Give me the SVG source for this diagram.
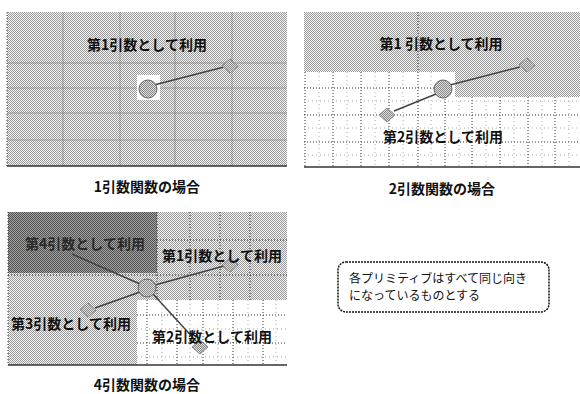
<svg xmlns="http://www.w3.org/2000/svg" width="580" height="394" viewBox="0 0 580 394">
<defs>
<pattern id="lt" width="2" height="2" patternUnits="userSpaceOnUse"><rect width="2" height="2" fill="#f2f2f2"/><rect width="1" height="1" fill="#9c9c9c"/><rect x="1" y="1" width="1" height="1" fill="#9c9c9c"/></pattern>
<pattern id="dk" width="2" height="2" patternUnits="userSpaceOnUse"><rect width="2" height="2" fill="#a0a0a0"/><rect width="1" height="1" fill="#555"/><rect x="1" y="1" width="1" height="1" fill="#555"/></pattern>
<pattern id="md" width="2" height="2" patternUnits="userSpaceOnUse"><rect width="2" height="2" fill="#dcdcdc"/><rect width="1" height="1" fill="#8a8a8a"/><rect x="1" y="1" width="1" height="1" fill="#8a8a8a"/></pattern>
</defs>
<style>
.lbl{font-family:"Noto Sans CJK JP","Noto Sans CJK SC",sans-serif;font-weight:bold;font-size:14px;fill:#111;text-anchor:middle}
.cap{font-family:"Noto Sans CJK JP","Noto Sans CJK SC",sans-serif;font-weight:bold;font-size:14px;fill:#111;text-anchor:middle}
.note{font-family:"Noto Sans CJK JP","Noto Sans CJK SC",sans-serif;font-size:12px;fill:#111}
.g1{stroke:#8a8a8a;stroke-width:1;fill:none;opacity:.7}
.dot{stroke:#333;stroke-width:1;stroke-dasharray:1 2;fill:none}
.dotl{stroke:#aaa;stroke-width:1;stroke-dasharray:1 3;fill:none}
.edge{stroke:#444;stroke-width:1.5;fill:none}
.prim{fill:url(#md);stroke:#666;stroke-width:1}
.arg{fill:url(#md);stroke:#888;stroke-width:1}
.base{stroke:#333;stroke-width:1.5}
</style>

<!-- Panel 1 -->
<g id="panel1">
<rect x="7" y="12" width="280" height="154" fill="url(#lt)"/>
<path class="g1" d="M7 63H287M7 88H287M7 113H287M7 140H287M63 12V166M120 12V166M175 12V166M232 12V166"/>
<path class="dot" d="M7 12V166"/>
<line class="base" x1="7" y1="166" x2="287" y2="166"/>
<rect x="137" y="75" width="23" height="25" fill="#fff"/>
</g>

<!-- Panel 2 -->
<g id="panel2">
<rect x="304" y="12" width="276" height="155" fill="#fff"/>
<rect x="304" y="12" width="276" height="60" fill="url(#lt)"/>
<rect x="455" y="72" width="125" height="25" fill="url(#lt)"/>
<path class="dotl" d="M319 72V167M347 72V167M375 72V167M403 72V167M431 72V167M459 97V167M486 97V167M514 97V167M542 97V167M569 97V167M304 101H580M304 128H580M304 155H580"/>
<path class="dot" d="M305 72V167M333 72V167M361 72V167M389 72V167M445 90V167M472 97V167M500 97V167M528 97V167M555 97V167M304 88H440M304 115H580M304 142H580"/>
<path class="dot" d="M418 12V167" stroke-width="1.5"/>
<line class="base" x1="304" y1="167" x2="580" y2="167"/>
</g>

<!-- Panel 3 -->
<g id="panel3">
<rect x="8" y="212" width="279" height="153" fill="url(#lt)"/>
<rect x="8" y="212" width="149" height="61" fill="url(#dk)"/>
<rect x="137" y="300" width="150" height="65" fill="#fff"/>
<path class="dot" d="M8 275H157M157 212V300M190 212V300M220 212V300M250 212V300M157 240H287M157 275H287"/>
<path class="dotl" d="M162 300V365M190 300V365M218 300V365M248 300V365M276 300V365M137 329H287M137 357H287"/>
<path class="dot" d="M147 300V365M177 300V365M203 300V365M233 300V365M263 300V365M137 315H287M137 343H287"/>
<path class="dot" d="M8 212V365"/>
<line class="base" x1="8" y1="365" x2="287" y2="365"/>
</g>

<!-- Connectors -->
<g id="connectors">
<line class="edge" x1="154" y1="85" x2="224" y2="67"/>
<line class="edge" x1="450" y1="85" x2="520" y2="67"/>
<line class="edge" x1="436" y1="94" x2="394" y2="111"/>
<line class="edge" x1="140" y1="284" x2="72" y2="254"/>
<line class="edge" x1="155" y1="285" x2="224" y2="266"/>
<line class="edge" x1="140" y1="292" x2="95" y2="308"/>
<line class="edge" x1="153" y1="294" x2="196" y2="341"/>
</g>

<!-- Nodes -->
<g id="p1-primitive"><circle class="prim" cx="148" cy="89" r="9"/></g>
<g id="p1-arg1"><path class="arg" d="M230 59L238 66L230 73L222 66Z"/></g>
<g id="p1-label1"><text class="lbl" x="147" y="50">第1引数として利用</text></g>

<g id="p2-primitive"><circle class="prim" cx="443" cy="89" r="9"/></g>
<g id="p2-arg1"><path class="arg" d="M527 58L535 65L527 72L519 65Z"/></g>
<g id="p2-arg2"><path class="arg" d="M387 108L395 115L387 122L379 115Z"/></g>
<g id="p2-label1"><text class="lbl" x="441" y="49">第1 引数として利用</text></g>
<g id="p2-label2"><text class="lbl" x="443" y="142">第2引数として利用</text></g>

<g id="p3-primitive"><circle class="prim" cx="147" cy="288" r="9"/></g>
<g id="p3-arg1"><path class="arg" d="M230 258L238 265L230 272L222 265Z"/></g>
<g id="p3-arg2"><path class="arg" d="M200 340L208 347L200 354L192 347Z"/></g>
<g id="p3-arg3"><path class="arg" d="M88 303L96 310L88 317L80 310Z"/></g>
<g id="p3-label4"><text class="lbl" x="85" y="249" style="fill:#2a2a2a">第4引数として利用</text></g>
<g id="p3-label1"><text class="lbl" x="222" y="261">第1引数として利用</text></g>
<g id="p3-label3"><text class="lbl" x="71" y="329">第3引数として利用</text></g>
<g id="p3-label2"><text class="lbl" x="212" y="342">第2引数として利用</text></g>

<!-- Captions -->
<g id="cap1"><text class="cap" x="147" y="192">1引数関数の場合</text></g>
<g id="cap2"><text class="cap" x="442" y="194">2引数関数の場合</text></g>
<g id="cap3"><text class="cap" x="147" y="390">4引数関数の場合</text></g>

<!-- Note -->
<g id="note">
<rect x="338" y="262" width="211" height="50" rx="8" fill="#fff" stroke="#111" stroke-width="1.5" stroke-dasharray="2 1"/>
<text class="note" x="349" y="283">各プリミティブはすべて同じ向き</text>
<text class="note" x="349" y="300">になっているものとする</text>
</g>
</svg>
